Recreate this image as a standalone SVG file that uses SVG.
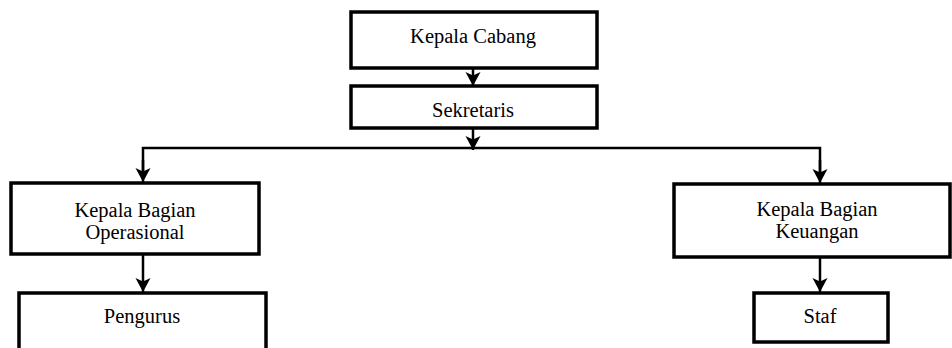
<svg xmlns="http://www.w3.org/2000/svg" width="952" height="348" viewBox="0 0 952 348">
<style>
.box{fill:#fff;stroke:#000;stroke-width:3.5}
.lbl{font-family:"Liberation Serif","Times New Roman",serif;font-size:20.5px;fill:#000;text-anchor:middle}
.con{fill:none;stroke:#000;stroke-width:2.5}
</style>
<defs>
<marker id="ah" markerUnits="userSpaceOnUse" markerWidth="16" markerHeight="16" viewBox="0 0 16 16" refX="14" refY="7.5" orient="auto">
<path d="M0,0 L14,7.5 L0,15 L3.5,7.5 Z" fill="#000"/>
</marker>
</defs>
<rect width="952" height="348" fill="#fff"/>
<g id="connectors">
<line class="con" x1="473" y1="69" x2="473" y2="86" marker-end="url(#ah)"/>
<line class="con" x1="473" y1="129" x2="473" y2="150" marker-end="url(#ah)"/>
<polyline class="con" points="143,175 143,148 820,148 820,176"/>
<line class="con" x1="143" y1="160" x2="143" y2="182" marker-end="url(#ah)"/>
<line class="con" x1="820" y1="160" x2="820" y2="183" marker-end="url(#ah)"/>
<line class="con" x1="143" y1="255" x2="143" y2="292" marker-end="url(#ah)"/>
<line class="con" x1="820" y1="258" x2="820" y2="292" marker-end="url(#ah)"/>
</g>
<g id="kepala-cabang">
<rect class="box" x="351" y="12" width="246" height="56"/>
<text class="lbl" x="473" y="43">Kepala Cabang</text>
</g>
<g id="sekretaris">
<rect class="box" x="351" y="86" width="246" height="42"/>
<text class="lbl" x="473" y="117">Sekretaris</text>
</g>
<g id="kabag-operasional">
<rect class="box" x="11" y="183" width="248" height="71"/>
<text class="lbl" x="135" y="217">Kepala Bagian</text>
<text class="lbl" x="135" y="239">Operasional</text>
</g>
<g id="kabag-keuangan">
<rect class="box" x="674" y="184" width="276" height="73"/>
<text class="lbl" x="817" y="216">Kepala Bagian</text>
<text class="lbl" x="817" y="238">Keuangan</text>
</g>
<g id="pengurus">
<rect class="box" x="19" y="293" width="247" height="80"/>
<text class="lbl" x="142" y="323">Pengurus</text>
</g>
<g id="staf">
<rect class="box" x="754" y="293" width="134" height="49"/>
<text class="lbl" x="820" y="323">Staf</text>
</g>
</svg>
